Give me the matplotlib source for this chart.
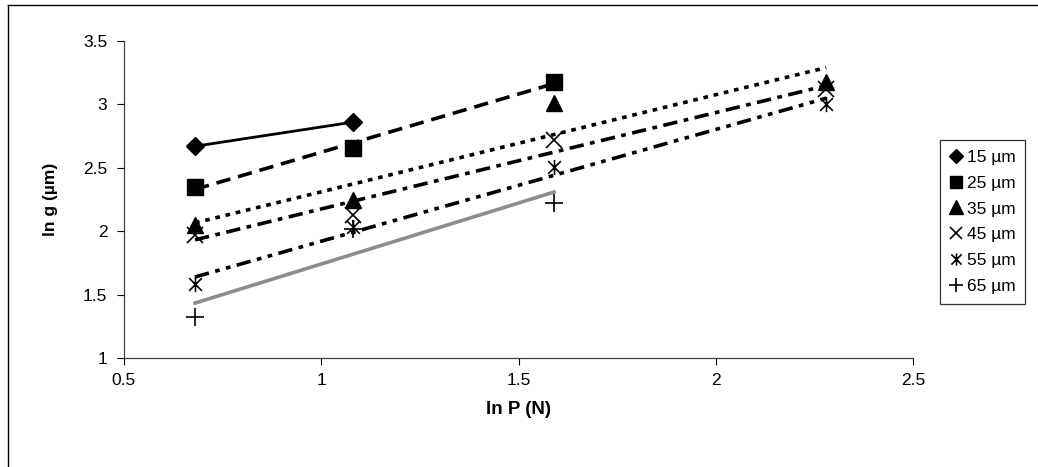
import numpy as np
import matplotlib
matplotlib.use("Agg")
import matplotlib.pyplot as plt
from matplotlib.path import Path
from matplotlib.lines import Line2D

plt.rcParams['font.family'] = ['Liberation Sans', 'DejaVu Sans']

ln_p = [0.68, 1.08, 1.59, 2.28]

labels = ['15 µm', '25 µm', '35 µm', '45 µm', '55 µm', '65 µm']
g15 = [2.67, 2.86]
g25 = [2.35, 2.66, 3.18]
g35 = [2.05, 2.25, 3.01, 3.18]
g45 = [1.97, 2.13, 2.72, 3.12]
g55 = [1.58, 2.03, 2.51, 3.00]
g65 = [1.32, 2.02, 2.22]

xticks = [0.5, 1, 1.5, 2, 2.5]
yticks = [1, 1.5, 2, 2.5, 3, 3.5]

# asterisk marker: x with a vertical bar
star = Path([(-1, -1), (1, 1), (-1, 1), (1, -1), (0, -1.2), (0, 1.2)],
            [Path.MOVETO, Path.LINETO, Path.MOVETO, Path.LINETO, Path.MOVETO, Path.LINETO])

series = [
    (g15, dict(marker='D', ms=9, mfc='k', mec='k'), dict(color='k', ls='-', lw=2.0)),
    (g25, dict(marker='s', ms=11, mfc='k', mec='k'), dict(color='k', ls=(0, (4, 2.2)), lw=2.6)),
    (g35, dict(marker='^', ms=12, mfc='k', mec='k'), dict(color='k', ls=(0, (1.3, 1.6)), lw=2.6)),
    (g45, dict(marker='x', ms=11, mfc='none', mec='k', mew=1.2), dict(color='k', ls=(0, (4, 1.8, 1.3, 1.8)), lw=2.6)),
    (g55, dict(marker=star, ms=11, mfc='none', mec='k', mew=1.2), dict(color='k', ls=(0, (4, 1.8, 1.3, 1.8, 1.3, 1.8)), lw=2.6)),
    (g65, dict(marker='+', ms=13, mfc='none', mec='k', mew=1.2), dict(color='#8c8c8c', ls='-', lw=2.6)),
]

fig = plt.figure(figsize=(10.38, 4.67), dpi=100)
ax = fig.add_axes([124 / 1038, 1 - 358 / 467, (913 - 124) / 1038, (358 - 41) / 467])

handles = []
for ys, mk, ln in series:
    xs = ln_p[:len(ys)]
    coef = np.polyfit(xs, ys, 1)
    xf = np.array([xs[0], xs[-1]])
    ax.plot(xf, np.polyval(coef, xf), zorder=2, **ln)
    h, = ax.plot(xs, ys, ls='none', zorder=3, **mk)
    handles.append(h)

ax.set_xlim(0.5, 2.5)
ax.set_ylim(1, 3.5)
ax.set_xticks(xticks)
ax.set_xticklabels([f'{t:g}' for t in xticks])
ax.set_yticks(yticks)
ax.set_yticklabels([f'{t:g}' for t in yticks])
ax.tick_params(direction='out', length=5, width=0.8, labelsize=12.5, pad=7, colors='k')
ax.tick_params(axis='x', pad=6)
for s in ['top', 'right']:
    ax.spines[s].set_visible(False)
for s in ['left', 'bottom']:
    ax.spines[s].set_color('#404040')
    ax.spines[s].set_linewidth(0.9)

ax.set_xlabel('ln P (N)', fontsize=13.5, fontweight='bold', labelpad=9)
ax.set_ylabel('ln g (µm)', fontsize=12.5, fontweight='bold', labelpad=18)

leg = fig.legend(handles, labels, loc='upper left', bbox_to_anchor=(940 / 1038, 1 - 140 / 467),
                 frameon=True, fancybox=False, fontsize=12.5, handlelength=0.7, handletextpad=0.3,
                 labelspacing=0.62, borderpad=0.55, borderaxespad=0, markerscale=0.8)
leg.get_frame().set_edgecolor('k')
leg.get_frame().set_linewidth(0.9)

fig.add_artist(Line2D([8 / 1038, 8 / 1038], [0, 1 - 5 / 467], color='k', lw=1, transform=fig.transFigure))
fig.add_artist(Line2D([8 / 1038, 1], [1 - 5 / 467, 1 - 5 / 467], color='k', lw=1, transform=fig.transFigure))

fig.savefig('out.png', dpi=100)
